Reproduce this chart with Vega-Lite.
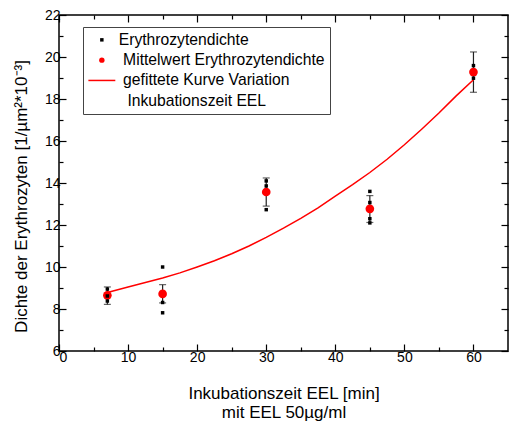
{
  "$schema": "https://vega.github.io/schema/vega-lite/v6.json",
  "width": 449,
  "height": 336,
  "autosize": {"type": "none"},
  "padding": {"left": 59, "top": 15, "right": 1, "bottom": 72},
  "background": "white",
  "config": {
    "font": "Liberation Sans",
    "view": {"stroke": "black", "strokeWidth": 1.5},
    "axis": {
      "grid": false,
      "domain": false,
      "tickColor": "black",
      "tickWidth": 1.2,
      "labelFont": "Liberation Sans",
      "labelFontSize": 14,
      "labelColor": "black",
      "titleFont": "Liberation Sans",
      "titleFontSize": 17,
      "titleFontWeight": "normal",
      "titleColor": "black"
    },
    "legend": {
      "orient": "none",
      "legendX": 24,
      "legendY": 12,
      "title": null,
      "padding": 5,
      "strokeColor": "#444444",
      "fillColor": "white",
      "labelFont": "Liberation Sans",
      "labelFontSize": 15.7,
      "labelColor": "black",
      "labelLimit": 0,
      "labelOffset": 9,
      "symbolOffset": 6,
      "rowPadding": 3.3
    }
  },
  "datasets": {
    "raw": [
      {"t": 7, "dichte": 8.95, "series": "Erythrozytendichte"},
      {"t": 7, "dichte": 8.62, "series": "Erythrozytendichte"},
      {"t": 7, "dichte": 8.38, "series": "Erythrozytendichte"},
      {"t": 15, "dichte": 10.0, "series": "Erythrozytendichte"},
      {"t": 15, "dichte": 8.31, "series": "Erythrozytendichte"},
      {"t": 15, "dichte": 7.82, "series": "Erythrozytendichte"},
      {"t": 30, "dichte": 13.86, "series": "Erythrozytendichte"},
      {"t": 30, "dichte": 14.1, "series": "Erythrozytendichte"},
      {"t": 30, "dichte": 12.73, "series": "Erythrozytendichte"},
      {"t": 45, "dichte": 13.6, "series": "Erythrozytendichte"},
      {"t": 45, "dichte": 13.07, "series": "Erythrozytendichte"},
      {"t": 45, "dichte": 12.3, "series": "Erythrozytendichte"},
      {"t": 45, "dichte": 12.1, "series": "Erythrozytendichte"},
      {"t": 60, "dichte": 19.59, "series": "Erythrozytendichte"},
      {"t": 60, "dichte": 18.99, "series": "Erythrozytendichte"}
    ],
    "means": [
      {"t": 7, "mean": 8.65, "lo": 8.22, "hi": 9.05},
      {"t": 15, "mean": 8.72, "lo": 8.29, "hi": 9.16},
      {"t": 30, "mean": 13.57, "lo": 12.9, "hi": 14.24},
      {"t": 45, "mean": 12.77, "lo": 12.12, "hi": 13.4},
      {"t": 60, "mean": 19.28, "lo": 18.32, "hi": 20.24}
    ],
    "fit": [
      {"t": 7, "y": 8.79},
      {"t": 10, "y": 9.05},
      {"t": 12.5, "y": 9.26},
      {"t": 15, "y": 9.48},
      {"t": 17.5, "y": 9.72},
      {"t": 20, "y": 10.0},
      {"t": 22.5, "y": 10.3},
      {"t": 25, "y": 10.63},
      {"t": 27.5, "y": 11.0},
      {"t": 30, "y": 11.41},
      {"t": 32.5, "y": 11.85},
      {"t": 35, "y": 12.32},
      {"t": 37.5, "y": 12.82},
      {"t": 40, "y": 13.38},
      {"t": 42.5, "y": 13.92},
      {"t": 45, "y": 14.5},
      {"t": 47.5, "y": 15.13},
      {"t": 50, "y": 15.82},
      {"t": 52.5, "y": 16.56},
      {"t": 55, "y": 17.33},
      {"t": 57.5, "y": 18.15},
      {"t": 60, "y": 18.92}
    ]
  },
  "layer": [
    {
      "data": {"name": "means"},
      "mark": {"type": "rule", "color": "#222222", "strokeWidth": 1.2},
      "encoding": {
        "x": {
          "field": "t", "type": "quantitative",
          "scale": {"domain": [0, 65], "nice": false, "zero": false},
          "axis": {
            "orient": "bottom",
            "values": [0, 10, 20, 30, 40, 50, 60],
            "tickSize": -7,
            "labelPadding": 6,
            "title": ["Inkubationszeit EEL [min]", "mit EEL 50µg/ml"],
            "titleLineHeight": 19,
            "titlePadding": 21
          }
        },
        "y": {
          "field": "lo", "type": "quantitative",
          "scale": {"domain": [6, 22], "nice": false, "zero": false},
          "axis": {
            "orient": "left",
            "values": [6, 8, 10, 12, 14, 16, 18, 20, 22],
            "tickSize": -7,
            "labelPadding": 6,
            "title": "Dichte der Erythrozyten [1/µm²*10⁻³]",
            "titlePadding": 14,
            "titleY": 181
          }
        },
        "y2": {"field": "hi"}
      }
    },
    {
      "data": {"name": "means"},
      "transform": [{"fold": ["lo", "hi"], "as": ["end", "value"]}],
      "mark": {"type": "tick", "orient": "horizontal", "color": "#222222", "size": 7, "thickness": 1.2},
      "encoding": {
        "x": {
          "field": "t", "type": "quantitative",
          "axis": {"orient": "bottom", "values": [5, 15, 25, 35, 45, 55], "tickSize": -4, "labels": false, "title": null}
        },
        "y": {
          "field": "value", "type": "quantitative",
          "axis": {"orient": "left", "values": [7, 9, 11, 13, 15, 17, 19, 21], "tickSize": -4, "labels": false, "title": null}
        }
      }
    },
    {
      "data": {"name": "fit"},
      "mark": {"type": "line", "color": "#ff0000", "strokeWidth": 1.5},
      "encoding": {
        "x": {
          "field": "t", "type": "quantitative",
          "axis": {"orient": "top", "values": [0, 10, 20, 30, 40, 50, 60], "tickSize": -7, "labels": false, "title": null}
        },
        "y": {
          "field": "y", "type": "quantitative",
          "axis": {"orient": "right", "values": [6, 8, 10, 12, 14, 16, 18, 20, 22], "tickSize": -7, "labels": false, "title": null}
        }
      }
    },
    {
      "data": {"name": "means"},
      "mark": {"type": "point", "shape": "circle", "filled": true, "color": "#ff0000", "size": 75, "opacity": 1},
      "encoding": {
        "x": {
          "field": "t", "type": "quantitative",
          "axis": {"orient": "top", "values": [5, 15, 25, 35, 45, 55], "tickSize": -4, "labels": false, "title": null}
        },
        "y": {
          "field": "mean", "type": "quantitative",
          "axis": {"orient": "right", "values": [7, 9, 11, 13, 15, 17, 19, 21], "tickSize": -4, "labels": false, "title": null}
        }
      }
    },
    {
      "data": {"name": "raw"},
      "mark": {"type": "point", "filled": true, "opacity": 1},
      "encoding": {
        "x": {"field": "t", "type": "quantitative", "axis": null},
        "y": {"field": "dichte", "type": "quantitative", "axis": null},
        "color": {
          "field": "series", "type": "nominal",
          "scale": {
            "domain": ["Erythrozytendichte", "Mittelwert Erythrozytendichte", "gefittete Kurve Variation", "Inkubationszeit EEL"],
            "range": ["#000000", "#ff0000", "#ff0000", "transparent"]
          },
          "legend": {
            "encoding": {
              "symbols": {
                "stroke": {"condition": {"test": "datum.value == 'gefittete Kurve Variation'", "value": "#ff0000"}, "value": "transparent"},
                "strokeWidth": {"value": 1.5}
              },
              "labels": {
                "dx": {"condition": [{"test": "datum.value == 'Erythrozytendichte'", "value": 0}, {"test": "datum.value == 'Inkubationszeit EEL'", "value": 8.7}], "value": 4.4}
              }
            }
          }
        },
        "shape": {
          "field": "series", "type": "nominal",
          "scale": {
            "domain": ["Erythrozytendichte", "Mittelwert Erythrozytendichte", "gefittete Kurve Variation", "Inkubationszeit EEL"],
            "range": ["square", "circle", "M-4,0H4", "square"]
          },
          "legend": {
            "encoding": {
              "symbols": {
                "stroke": {"condition": {"test": "datum.value == 'gefittete Kurve Variation'", "value": "#ff0000"}, "value": "transparent"},
                "strokeWidth": {"value": 1.5}
              },
              "labels": {
                "dx": {"condition": [{"test": "datum.value == 'Erythrozytendichte'", "value": 0}, {"test": "datum.value == 'Inkubationszeit EEL'", "value": 8.7}], "value": 4.4}
              }
            }
          }
        },
        "size": {
          "field": "series", "type": "nominal",
          "scale": {
            "domain": ["Erythrozytendichte", "Mittelwert Erythrozytendichte", "gefittete Kurve Variation", "Inkubationszeit EEL"],
            "range": [12, 62, 306, 1]
          },
          "legend": {
            "encoding": {
              "symbols": {
                "stroke": {"condition": {"test": "datum.value == 'gefittete Kurve Variation'", "value": "#ff0000"}, "value": "transparent"},
                "strokeWidth": {"value": 1.5}
              },
              "labels": {
                "dx": {"condition": [{"test": "datum.value == 'Erythrozytendichte'", "value": 0}, {"test": "datum.value == 'Inkubationszeit EEL'", "value": 8.7}], "value": 4.4}
              }
            }
          }
        }
      }
    }
  ],
  "resolve": {"axis": {"x": "independent", "y": "independent"}}
}
